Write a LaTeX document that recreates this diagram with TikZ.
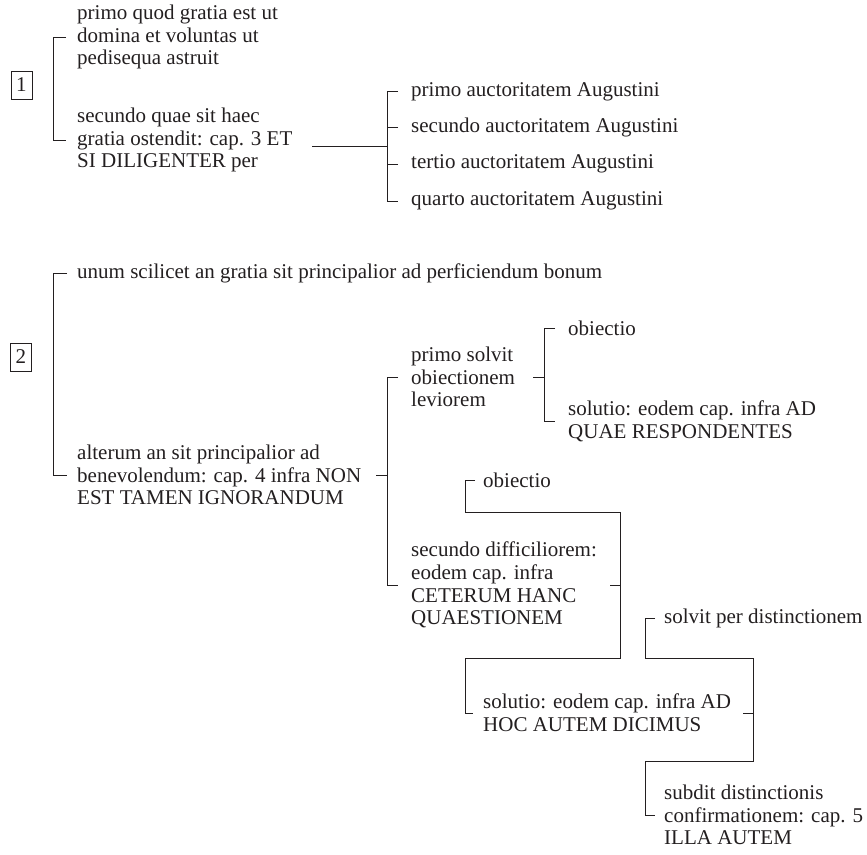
\documentclass[tikz,border=0pt]{standalone}
\usepackage{fontspec}
\setmainfont{Liberation Serif}
\usetikzlibrary{calc}
\definecolor{ink}{RGB}{35,31,32}
\begin{document}
\begin{tikzpicture}[x=1pt,y=-1pt,
  txt/.style={anchor=west,align=left,inner sep=0pt,text=ink,font=\fontsize{21}{22.8}\selectfont},
  numbox/.style={draw=ink,line width=0.9pt,minimum width=21pt,minimum height=28pt,inner sep=0pt,text=ink,font=\fontsize{21}{22.8}\selectfont},
  ln/.style={draw=ink,line width=1pt}]
\useasboundingbox (0,0) rectangle (867,854);

% ---------- section 1 ----------
\node[numbox] (n1) at (21.5,85) {1};
\node[txt] (A1) at (77,37) {primo quod gratia est ut\\domina et voluntas ut\\pedisequa astruit};
\node[txt] (A2) at (77,140) {secundo quae sit haec\\gratia ostendit: cap. 3 ET\\SI DILIGENTER per};
\node[txt] (B1) at (411,91.7) {primo auctoritatem Augustini};
\node[txt] (B2) at (411,127.7) {secundo auctoritatem Augustini};
\node[txt] (B3) at (411,164.3) {tertio auctoritatem Augustini};
\node[txt] (B4) at (411,201) {quarto auctoritatem Augustini};
\coordinate (hubB) at (387,146);

\draw[ln] ([xshift=-11]A1.west) -- ([xshift=-24]A1.west) |- ([xshift=-11]A2.west);
\draw[ln] ([xshift=-13]B1.west) -- ([xshift=-24]B1.west) |- ([xshift=-13]B4.west);
\draw[ln] ([xshift=-13]B2.west) -- ([xshift=-24]B2.west);
\draw[ln] ([xshift=-13]B3.west) -- ([xshift=-24]B3.west);
\draw[ln] (hubB) -- ($(hubB -| A2.east)+(19,0)$);

% ---------- section 2 ----------
\node[numbox] (n2) at (21,357) {2};
\node[txt] (C1) at (77,273) {unum scilicet an gratia sit principalior ad perficiendum bonum};
\node[txt] (C2) at (77,475) {alterum an sit principalior ad\\benevolendum: cap. 4 infra NON\\EST TAMEN IGNORANDUM};
\draw[ln] ([xshift=-10]C1.west) -- ([xshift=-24]C1.west) |- ([xshift=-10]C2.west);

\node[txt] (D1) at (411,377) {primo solvit\\obiectionem\\leviorem};
\node[txt] (D2) at (411,585) {secundo difficiliorem:\\eodem cap. infra\\CETERUM HANC\\QUAESTIONEM};
\coordinate (hubD) at (387,475);
\draw[ln] ([xshift=-13]D1.west) -- ([xshift=-24]D1.west) |- ([xshift=-13]D2.west);
\draw[ln] (hubD) -- ++(-11,0);

\node[txt] (E1) at (568,328) {obiectio};
\node[txt] (E2) at (568,421) {solutio: eodem cap. infra AD\\QUAE RESPONDENTES};
\coordinate (hubE) at (544,377);
\draw[ln] ([xshift=-13]E1.west) -- ([xshift=-24]E1.west) |- ([xshift=-13]E2.west);
\draw[ln] (hubE) -- ++(-11,0);

\node[txt] (F1) at (483,480) {obiectio};
\node[txt] (F2) at (483,713) {solutio: eodem cap. infra AD\\HOC AUTEM DICIMUS};
\coordinate (hubF) at (620,585);
\draw[ln] ([xshift=-8]F1.west) -- ++(-10,0) -- ++(0,32) -- ++(155,0) -- ++(0,146) -- ++(-155,0) |- ([xshift=-10]F2.west);
\draw[ln] (hubF) -- ++(-10,0);

\node[txt] (G1) at (664,618) {solvit per distinctionem};
\node[txt] (G2) at (664,815) {subdit distinctionis\\confirmationem: cap. 5\\ILLA AUTEM};
\coordinate (hubG) at (753,713);
\draw[ln] ([xshift=-9]G1.west) -- ++(-10,0) -- ++(0,40) -- ++(108,0) -- ++(0,103) -- ++(-108,0) |- ([xshift=-9]G2.west);
\draw[ln] (hubG) -- ++(-10,0);
\end{tikzpicture}
\end{document}
